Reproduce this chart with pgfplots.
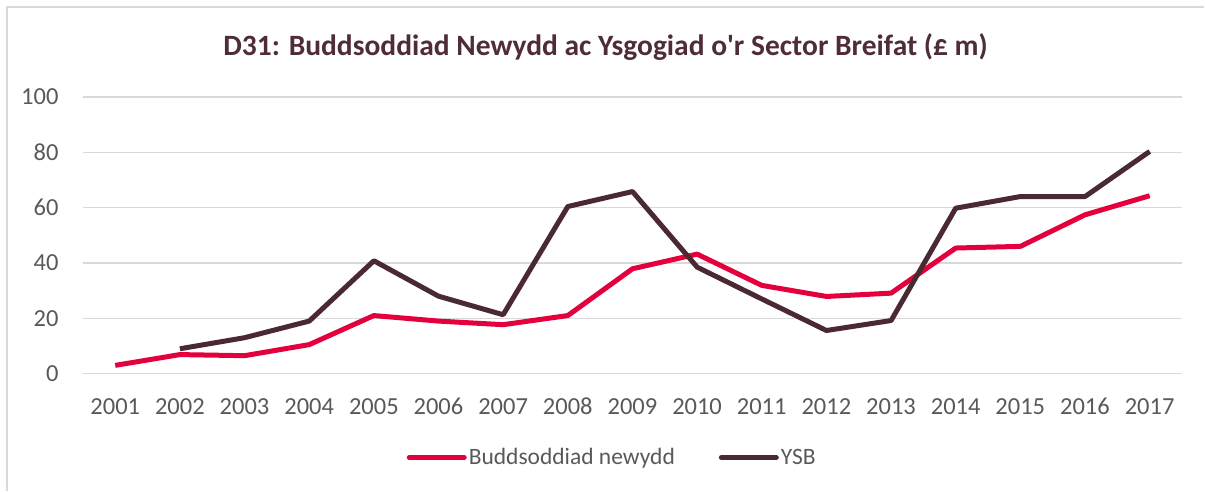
\documentclass[border=0pt]{standalone}
\usepackage{pgfplots}
\pgfplotsset{compat=1.18}
\usepackage{fontspec}
\setmainfont{Carlito}
\definecolor{cred}{HTML}{E4003C}
\definecolor{cdark}{HTML}{4A2932}
\definecolor{ctitle}{HTML}{4F2D38}
\definecolor{cgrid}{HTML}{D9D9D9}
\definecolor{ctick}{HTML}{595959}
\pgfplotstableread{
year bn
2001 3.0
2002 6.9
2003 6.5
2004 10.5
2005 21.0
2006 19.0
2007 17.7
2008 21.0
2009 37.9
2010 43.2
2011 31.9
2012 27.9
2013 29.1
2014 45.4
2015 46.0
2016 57.4
2017 64.3
}\tblbn
\pgfplotstableread{
year ysb
2002 9.0
2003 13.0
2004 19.0
2005 40.8
2006 28.0
2007 21.3
2008 60.4
2009 65.8
2010 38.5
2011 27.0
2012 15.6
2013 19.2
2014 59.8
2015 64.0
2016 64.0
2017 80.3
}\tblysb
\begin{document}
\begin{tikzpicture}[x=1bp,y=1bp]
\path (0,0) rectangle (1205,491);
\draw[cgrid, line width=2bp] (7,0) -- (7,484) -- (1205,484);
\node[text=ctitle, font=\fontsize{29.5bp}{34bp}\selectfont\bfseries] at (606,444) {D31: Buddsoddiad Newydd ac Ysgogiad o\textquotesingle r Sector Breifat (£ m)};
\begin{axis}[
  at={(83bp,117bp)}, anchor=south west,
  scale only axis, width=1100bp, height=277bp,
  xmin=2000.5, xmax=2017.5, ymin=0, ymax=100,
  xtick={2001,...,2017}, ytick={0,20,...,100},
  /pgf/number format/.cd, 1000 sep={}, assume math mode=true, /pgfplots/.cd,
  axis line style={draw=none},
  tick style={draw=none},
  ymajorgrids, grid style={cgrid, line width=1.5bp},
  tick label style={text=ctick, font=\fontsize{24.5bp}{28bp}\selectfont},
  xticklabel style={yshift=-21bp},
  yticklabel style={xshift=-21bp},
  legend style={at={(0.2945,-0.303)}, anchor=west, draw=none, fill=none, inner sep=0pt,
    font=\fontsize{23.5bp}{28bp}\selectfont, text=ctick,
    /tikz/every even column/.append style={column sep=42bp}},
  legend columns=2,
  legend image code/.code={\draw[#1, line cap=round] (0bp,0bp) -- (55bp,0bp);},
  legend cell align=left,
]
\addplot[cred, line width=5bp, line join=round] table[x=year, y=bn] {\tblbn};
\addlegendentry{Buddsoddiad newydd}
\addplot[cdark, line width=5bp, line join=round] table[x=year, y=ysb] {\tblysb};
\addlegendentry{YSB}
\end{axis}
\end{tikzpicture}
\end{document}
